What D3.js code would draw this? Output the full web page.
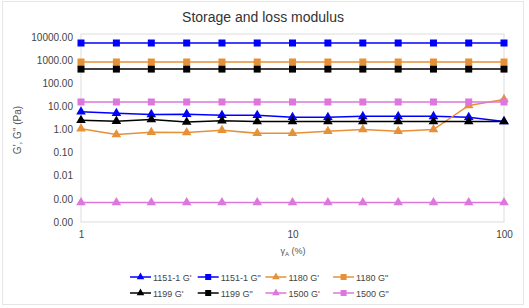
<!DOCTYPE html>
<html>
<head>
<meta charset="utf-8">
<script src="https://cdn.jsdelivr.net/npm/d3@7"></script>
<style>
  body { margin: 0; background: #fff; }
  text { font-family: "Liberation Sans", Arial, sans-serif; }
</style>
</head>
<body>
<svg id="chart" width="529" height="308"></svg>
<script>
// strain amplitude (%)
const strain = [1, 1.47, 2.15, 3.16, 4.64, 6.81, 10, 14.7, 21.5, 31.6, 46.4, 68.1, 100];

// G' and G" (Pa) per sample
const g1151p = [5.9, 5.0, 4.5, 4.6, 4.1, 4.1, 3.4, 3.4, 3.7, 3.7, 3.7, 3.4, 2.2];
const g1151pp = [5500, 5500, 5500, 5500, 5500, 5500, 5500, 5500, 5500, 5500, 5500, 5500, 5500];
const g1180p = [1.07, 0.61, 0.76, 0.74, 0.93, 0.69, 0.69, 0.84, 1.0, 0.84, 1.0, 11, 20];
const g1180pp = [830, 830, 830, 830, 830, 830, 830, 830, 830, 830, 830, 830, 830];
const g1199p = [2.5, 2.3, 2.7, 2.1, 2.4, 2.2, 2.2, 2.2, 2.2, 2.2, 2.2, 2.2, 2.2];
const g1199pp = [410, 410, 410, 410, 410, 410, 410, 410, 410, 410, 410, 410, 410];
const g1500p = [0.0007, 0.0007, 0.0007, 0.0007, 0.0007, 0.0007, 0.0007, 0.0007, 0.0007, 0.0007, 0.0007, 0.0007, 0.0007];
const g1500pp = [15.5, 15.5, 15.5, 15.5, 15.5, 15.5, 15.5, 15.5, 15.5, 15.5, 15.5, 15.5, 15.5];

const yTicks = [10000, 1000, 100, 10, 1, 0.1, 0.01, 0.001, 0.0001];
const xTicks = [1, 10, 100];

const series = [
  { name: "1151-1 G'", values: g1151p, color: "#0000ff", shape: "tri" },
  { name: "1151-1 G\"", values: g1151pp, color: "#0000ff", shape: "sq" },
  { name: "1180 G'", values: g1180p, color: "#e69138", shape: "tri" },
  { name: "1180 G\"", values: g1180pp, color: "#e69138", shape: "sq" },
  { name: "1199 G'", values: g1199p, color: "#000000", shape: "tri" },
  { name: "1199 G\"", values: g1199pp, color: "#000000", shape: "sq" },
  { name: "1500 G'", values: g1500p, color: "#dd77dd", shape: "tri" },
  { name: "1500 G\"", values: g1500pp, color: "#dd77dd", shape: "sq" }
];

const svg = d3.select("#chart");
const plotL = 81, plotR = 504, plotT = 37, plotB = 222;

// outer frame
svg.append("rect")
  .attr("x", 2.5).attr("y", 1.5).attr("width", 521).attr("height", 303)
  .attr("fill", "none").attr("stroke", "#e6e6e6");

const x = d3.scaleLog().domain([1, 100]).range([plotL, plotR]);
const y = d3.scaleLog().domain([0.0001, 10000]).range([plotB, plotT]);

svg.append("text")
  .attr("x", 263).attr("y", 22)
  .attr("text-anchor", "middle")
  .attr("font-size", 14)
  .attr("fill", "#333")
  .text("Storage and loss modulus");

// plot frame
svg.append("rect")
  .attr("x", plotL).attr("y", plotT - 3)
  .attr("width", plotR - plotL).attr("height", plotB - plotT + 3)
  .attr("fill", "none").attr("stroke", "#dddddd");

const yAxis = svg.append("g")
  .attr("transform", `translate(${plotL},0)`)
  .call(d3.axisLeft(y).tickValues(yTicks).tickFormat(d3.format(".2f")).tickSize(0).tickPadding(8));
yAxis.select(".domain").remove();
yAxis.selectAll("text").attr("font-size", 10).attr("fill", "#444")
  .style("font-family", "'Liberation Sans', Arial, sans-serif");

const xAxis = svg.append("g")
  .attr("transform", `translate(0,${plotB})`)
  .call(d3.axisBottom(x).tickValues(xTicks).tickFormat(d3.format("d")).tickSize(0).tickPadding(9));
xAxis.select(".domain").remove();
xAxis.selectAll("text").attr("font-size", 10).attr("fill", "#444")
  .style("font-family", "'Liberation Sans', Arial, sans-serif");

// axis titles
const xt = svg.append("text")
  .attr("x", 293).attr("y", 254)
  .attr("text-anchor", "middle")
  .attr("font-size", 9)
  .attr("fill", "#555");
xt.append("tspan").text("γ");
xt.append("tspan").attr("font-size", 6).attr("dy", 2).text("A");
xt.append("tspan").attr("dy", -2).text(" (%)");

svg.append("text")
  .attr("transform", "translate(21,130) rotate(-90)")
  .attr("text-anchor", "middle")
  .attr("font-size", 10)
  .attr("fill", "#555")
  .text("G', G\" (Pa)");

const line = d3.line()
  .x((d, i) => x(strain[i]))
  .y(d => y(d));

function marker(g, shape, color, cx, cy) {
  if (shape === "sq") {
    g.append("rect")
      .attr("x", cx - 3.5).attr("y", cy - 3.5)
      .attr("width", 7).attr("height", 7)
      .attr("fill", color);
  } else {
    g.append("path")
      .attr("d", d3.symbol(d3.symbolTriangle, 40)())
      .attr("transform", `translate(${cx},${cy})`)
      .attr("fill", color);
  }
}

series.forEach(s => {
  const g = svg.append("g");
  g.append("path")
    .datum(s.values)
    .attr("d", line)
    .attr("fill", "none")
    .attr("stroke", s.color)
    .attr("stroke-width", 1.5);
  s.values.forEach((v, i) => marker(g, s.shape, s.color, x(strain[i]), y(v)));
});

// legend
const legend = svg.append("g");
series.forEach((s, i) => {
  const col = i % 4, row = Math.floor(i / 4);
  const lx = 130 + col * 67.7, ly = 277 + row * 16;
  const item = legend.append("g");
  item.append("line")
    .attr("x1", lx).attr("x2", lx + 21)
    .attr("y1", ly).attr("y2", ly)
    .attr("stroke", s.color).attr("stroke-width", 1.5);
  if (s.shape === "sq") {
    item.append("rect")
      .attr("x", lx + 7.5).attr("y", ly - 3).attr("width", 6).attr("height", 6)
      .attr("fill", s.color);
  } else {
    item.append("path")
      .attr("d", d3.symbol(d3.symbolTriangle, 25)())
      .attr("transform", `translate(${lx + 10.5},${ly})`)
      .attr("fill", s.color);
  }
  item.append("text")
    .attr("x", lx + 23).attr("y", ly + 3.5)
    .attr("font-size", 9)
    .attr("fill", "#444")
    .text(s.name);
});
</script>
</body>
</html>
